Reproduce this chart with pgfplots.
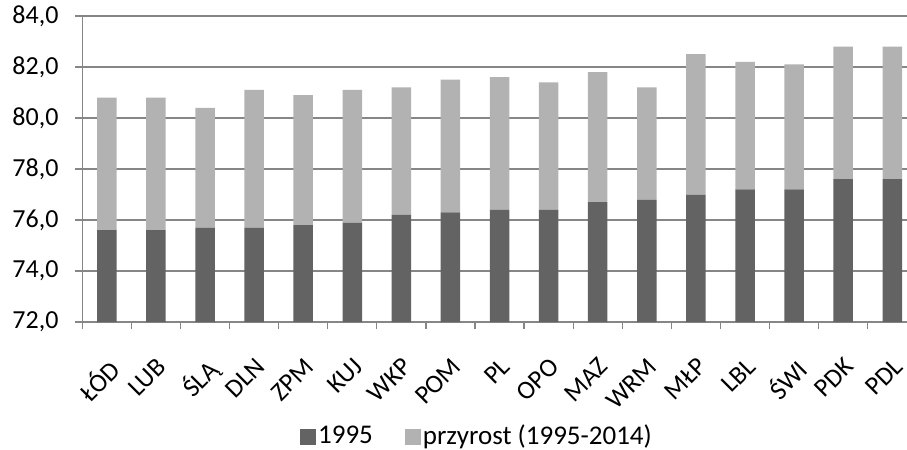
\documentclass[border=0pt]{standalone}
\usepackage{fontspec}
\setmainfont{Carlito}
\usepackage{pgfplots}
\pgfplotsset{compat=1.18}
\definecolor{dark}{HTML}{636363}
\definecolor{light}{HTML}{B2B2B2}
\definecolor{gridc}{HTML}{868686}
\newcommand{\lblfont}{\fontsize{26bp}{31bp}\selectfont}
\newcommand{\legfont}{\fontsize{27bp}{32bp}\selectfont}
\begin{document}
\lblfont
\begin{tikzpicture}
\path[use as bounding box] (-82.3bp,-128bp) rectangle (824.7bp,322bp);
\begin{axis}[
  at={(0,0)}, anchor=south west,
  scale only axis, width=824.7bp, height=306bp,
  xmin=-0.5, xmax=16.3, ymin=72, ymax=84,
  ybar stacked, bar width=19.5bp,
  ytick={72,74,...,84},
  ymajorgrids, grid style={gridc, line width=1.3bp},
  axis x line=bottom, axis y line=left,
  axis line style={gridc, line width=1.3bp, -},
  xtick={0,...,16},
  xticklabels={ŁÓD,LUB,ŚLĄ,DLN,ZPM,KUJ,WKP,POM,PL,OPO,MAZ,WRM,MŁP,LBL,ŚWI,PDK,PDL},
  minor xtick={-0.5,0.5,...,16.5},
  major x tick style={draw=none},
  tick align=outside, major tick length=7bp, minor tick length=7bp,
  tick style={gridc, line width=1.3bp},
  xticklabel style={xshift=0bp, yshift=-15bp, rotate=45, anchor=north east, font=\lblfont},
  yticklabel style={font=\lblfont, xshift=-8bp},
  /pgf/number format/assume math mode=true,
  yticklabel={\pgfmathprintnumber[fixed,fixed zerofill,precision=1,use comma]{\tick}},
  legend style={at={(0.4786,-0.376)}, anchor=center, draw=none, fill=none,
    legend columns=2, font=\legfont,
    /tikz/every even column/.append style={column sep=30bp}},
]
\addplot[fill=dark, draw=none, legend image code/.code={\fill[dark] (0bp,-8bp) rectangle (16bp,8bp);}] coordinates {(0,75.6) (1,75.6) (2,75.7) (3,75.7) (4,75.8) (5,75.9) (6,76.2) (7,76.3) (8,76.4) (9,76.4) (10,76.7) (11,76.8) (12,77.0) (13,77.2) (14,77.2) (15,77.6) (16,77.6)};
\addplot[fill=light, draw=none, legend image code/.code={\fill[light] (0bp,-8bp) rectangle (16bp,8bp);}] coordinates {(0,5.2) (1,5.2) (2,4.7) (3,5.4) (4,5.1) (5,5.2) (6,5.0) (7,5.2) (8,5.2) (9,5.0) (10,5.1) (11,4.4) (12,5.5) (13,5.0) (14,4.9) (15,5.2) (16,5.2)};
\legend{1995, przyrost (1995-2014)}
\end{axis}
\end{tikzpicture}
\end{document}
